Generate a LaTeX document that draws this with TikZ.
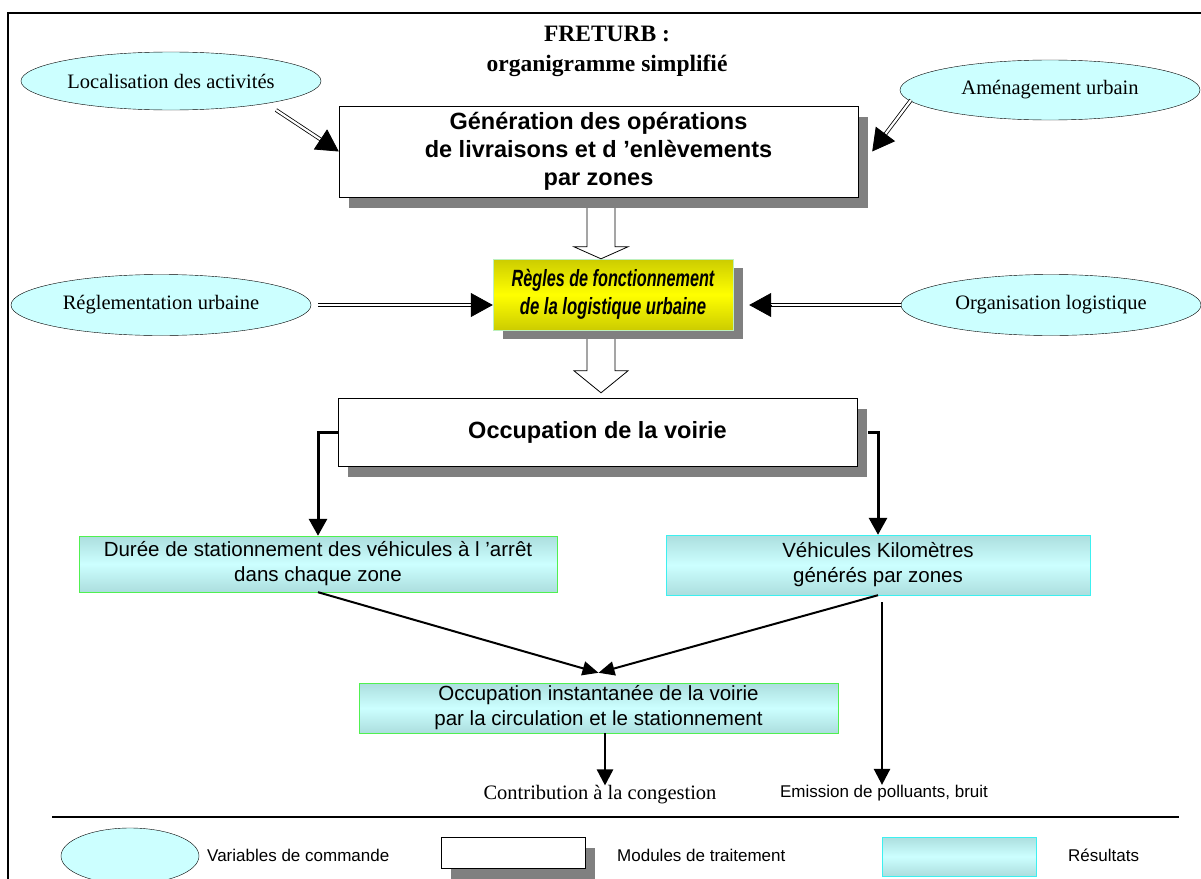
\documentclass[tikz,border=0pt]{standalone}
\usepackage{fontspec}
\usepackage{graphicx}
\setmainfont{Liberation Serif}
\newfontfamily\arial{Liberation Sans}
\usetikzlibrary{arrows.meta,shapes.geometric,shadows,calc}

\definecolor{ellfill}{RGB}{204,255,255}
\definecolor{cyanedge}{RGB}{172,222,222}
\definecolor{cyanmid}{RGB}{204,255,255}
\definecolor{shadowgray}{RGB}{128,128,128}
\definecolor{olivey}{RGB}{204,204,0}
\definecolor{brightgreen}{RGB}{80,240,80}
\definecolor{brightcyan}{RGB}{60,240,240}
\definecolor{palegreen}{RGB}{190,240,190}

\tikzset{
  var/.style={ellipse, draw, fill=ellfill, inner sep=0pt, minimum width=300pt, minimum height=60pt,
    font=\fontsize{20.5}{25}\selectfont},
  module/.style={draw, fill=white, inner sep=0pt, align=center,
    font=\arial\bfseries\fontsize{23.5}{28}\selectfont,
    drop shadow={shadow xshift=10pt, shadow yshift=-11pt, fill=shadowgray, opacity=1}},
  result/.style={inner sep=0pt, align=center, top color=cyanedge, bottom color=cyanedge, middle color=cyanmid,
    font=\arial\fontsize{20.5}{25}\selectfont},
  ruleset/.style={draw=palegreen, inner sep=0pt, align=center, top color=olivey, bottom color=olivey, middle color=yellow,
    font=\arial\bfseries\itshape\fontsize{23.5}{28}\selectfont,
    drop shadow={shadow xshift=10pt, shadow yshift=-9pt, fill=shadowgray, opacity=1}},
  legtext/.style={inner sep=0pt, font=\arial\fontsize{17}{20}\selectfont},
  dbl/.style={double, double distance=2.2pt, line width=0.8pt},
  bigtip/.style={line width=0.8pt, -{Triangle[length=22pt,width=24pt]}},
  hollow/.style={line width=0.8pt, fill=white},
  elbow/.style={line width=3pt, -{Triangle[length=17pt,width=18pt]}},
  diag/.style={line width=2pt, -{Triangle[length=16pt,width=14pt]}},
  vert/.style={line width=2.5pt, -{Triangle[length=16pt,width=16pt]}}
}

\begin{document}
\begin{tikzpicture}[x=1pt,y=-1pt]

  \newcommand\dblarrow[2]{%
    \draw[dbl, shorten >=20pt] (#1) -- (#2);
    \draw[bigtip] ($(#2)!22pt!(#1)$) -- (#2);}
  \newcommand\hollowarrow[3]{%
    \draw[hollow] ($(#1)+(-14,0)$) -- ($(#2)+(-14,-#3)$) -- ($(#2)+(-27,-#3)$) -- (#2)
      -- ($(#2)+(27,-#3)$) -- ($(#2)+(14,-#3)$) -- ($(#1)+(14,0)$);}

  \useasboundingbox (0,0) rectangle (1201,878);
  \clip (0,0) rectangle (1201,878);
  \draw[line width=1.5pt] (8,13) rectangle (1215,895);

  \node[align=center, font=\bfseries\fontsize{23.5}{30}\selectfont] (titre) at (607,51) {FRETURB :\\organigramme simplifié};

  %% variables de commande
  \node[var, minimum height=58pt] (loc) at (171,81) {Localisation des activités};
  \node[var] (amen) at (1050,90) {Aménagement urbain};
  \node[var, minimum height=61pt] (regl) at (161,305) {Réglementation urbaine};
  \node[var, minimum height=61pt] (orga) at (1051,305) {Organisation logistique};

  %% modules
  \node[module, minimum width=519pt, minimum height=91pt] (gen) at (598.5,151.5)
    {Génération des opérations\\de livraisons et d ’enlèvements\\par zones};
  \node[ruleset, minimum width=240pt, minimum height=71pt] (regles) at (613,294.5)
    {\scalebox{0.69}[1]{Règles de fonctionnement}\\\scalebox{0.71}[1]{de la logistique urbaine}};
  \node[module, minimum width=519pt, minimum height=68pt] (occ) at (597.5,432) {Occupation de la voirie};

  %% resultats
  \node[result, draw=brightgreen, minimum width=478pt, minimum height=56pt] (duree) at (318,564)
    {Durée de stationnement des véhicules à l ’arrêt\\dans chaque zone};
  \node[result, draw=brightcyan, minimum width=424pt, minimum height=60pt] (vehic) at (878,565)
    {Véhicules Kilomètres\\générés par zones};
  \node[result, draw=brightgreen, minimum width=479pt, minimum height=50pt] (occinst) at (598.5,708)
    {Occupation instantanée de la voirie\\par la circulation et le stationnement};
  \node[inner sep=0pt, font=\fontsize{20.5}{25}\selectfont] (contrib) at (600,795) {Contribution à la congestion};
  \node[legtext] (emis) at (884,793) {Emission de polluants, bruit};

  %% inputs
  \coordinate (locout) at (276,110);
  \coordinate (amenout) at (911,100);
  \coordinate (genin) at ([xshift=14pt]gen.east);
  \coordinate (reglout) at ([xshift=7pt]regl.east);
  \coordinate (reglin) at (regles.west |- regl.east);
  \coordinate (orgain) at ([xshift=16pt]regles.east |- orga.west);
  \dblarrow{locout}{gen.west}
  \dblarrow{amenout}{genin}
  \dblarrow{reglout}{reglin}
  \dblarrow{orga.west}{orgain}

  %% gen->regles->occ
  \coordinate (h1top) at ([xshift=2.5pt,yshift=-11pt]gen.south);
  \coordinate (h1tip) at (h1top |- regles.north);
  \coordinate (h2top) at ([yshift=-9pt]regles.south -| h1top);
  \coordinate (h2tip) at ([yshift=5pt]occ.north -| h1top);
  \hollowarrow{h1top}{h1tip}{12}
  \hollowarrow{h2top}{h2tip}{22}

  %% occ->duree, occ->vehic
  \coordinate (occright) at ([xshift=11pt]occ.east);
  \draw[elbow] (occ.west) -| (duree.north);
  \draw[elbow] (occright) -| (vehic.north);

  \coordinate (meet) at ([yshift=10pt]occinst.north);
  \draw[diag] (duree.south) -- (meet);
  \draw[diag] (vehic.south) -- (meet);

  \coordinate (congout) at ([xshift=6.5pt]occinst.south);
  \coordinate (emisout) at ([xshift=4pt,yshift=-7pt]vehic.south);
  \draw[vert] (congout) -- (congout |- contrib.north);
  \draw[vert] (emisout) -- (emisout |- emis.north);

  %% legende
  \draw[line width=1.2pt] (52,817) -- (1179,817);
  \node[var, minimum width=138pt, minimum height=56pt] (legvar) at (130,856) {};
  \node[legtext, anchor=west] (legvartxt) at (207,855) {Variables de commande};
  \node[module, minimum width=144pt, minimum height=31pt] (legmod) at (513,852.5) {};
  \node[legtext, anchor=west] (legmodtxt) at (617,855) {Modules de traitement};
  \node[result, draw=brightcyan, minimum width=154pt, minimum height=39pt] (legres) at (959,856.5) {};
  \node[legtext, anchor=west] (legrestxt) at (1068,855) {Résultats};
\end{tikzpicture}
\end{document}
